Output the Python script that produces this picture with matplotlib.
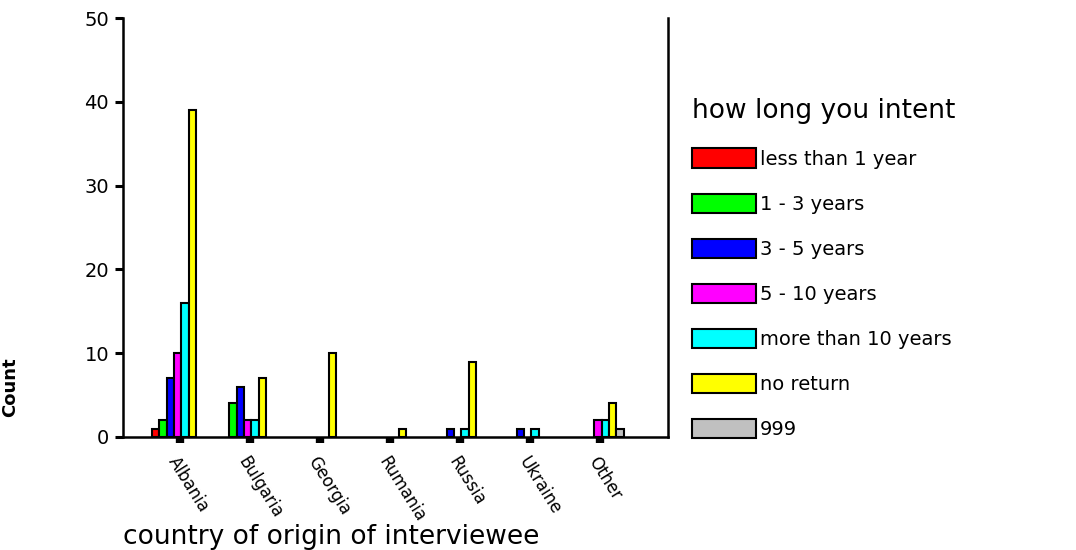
import numpy as np
import matplotlib.pyplot as plt
from matplotlib.patches import Patch

plt.rcParams['font.family'] = ['DejaVu Sans']

countries = ["Albania", "Bulgaria", "Georgia", "Rumania", "Russia", "Ukraine", "Other"]
groups = ["less than 1 year", "1 - 3 years", "3 - 5 years", "5 - 10 years",
          "more than 10 years", "no return", "999"]
colors = ["#ff0000", "#00ff00", "#0000ff", "#ff00ff", "#00ffff", "#ffff00", "#c0c0c0"]

# counts per group for each country
less1 = [1, 0, 0, 0, 0, 0, 0]
y1_3 = [2, 4, 0, 0, 0, 0, 0]
y3_5 = [7, 6, 0, 0, 1, 1, 0]
y5_10 = [10, 2, 0, 0, 0, 0, 2]
more10 = [16, 2, 0, 0, 1, 1, 2]
noret = [39, 7, 10, 1, 9, 0, 4]
miss = [0, 0, 0, 0, 0, 0, 1]
values = [less1, y1_3, y3_5, y5_10, more10, noret, miss]

fig = plt.figure(figsize=(10.76, 5.5), dpi=100)
ax = fig.add_axes([123/1076, 1 - 437/550, (668-123)/1076, (437-18)/550])

x = np.arange(len(countries))
w = 0.105
for i, (vals, c) in enumerate(zip(values, colors)):
    v = np.array(vals, dtype=float)
    mask = v > 0
    ax.bar(x[mask] + (i - 3.3) * w, v[mask], width=w, color=c,
           edgecolor="black", linewidth=1.5, zorder=3)

ax.set_xlim(-0.81, 6.97)
ax.set_ylim(0, 50)
ax.set_yticks([0, 10, 20, 30, 40, 50])
ax.tick_params(axis='y', direction='out', length=6, width=2.2, labelsize=14, pad=4)
ax.set_xticks(x)
ax.set_xticklabels(countries, rotation=-58, ha='left', va='top',
                   rotation_mode='anchor', fontsize=12)
ax.tick_params(axis='x', direction='out', length=4, width=6, pad=8)
for s in ["left", "right", "bottom"]:
    ax.spines[s].set_linewidth(1.8)
ax.spines["top"].set_visible(False)

ax.set_xlabel("country of origin of interviewee", fontsize=19, ha='left', va='center')
ax.xaxis.set_label_coords(0.0, -0.238)
ax.set_ylabel("Count", fontsize=13, fontweight='bold')
ax.yaxis.set_label_coords(-0.19, 0.12)

handles = [Patch(facecolor=c, edgecolor="black", linewidth=1.5) for c in colors]
leg = fig.legend(handles, groups, loc='upper left', bbox_to_anchor=(674/1076, 1 - 80/550),
                 frameon=False, fontsize=14, title="how long you intent",
                 title_fontsize=19, handlelength=3.3, handleheight=1.15,
                 labelspacing=1.28, handletextpad=0.2, alignment='left')

fig.savefig("out.png", dpi=100)
